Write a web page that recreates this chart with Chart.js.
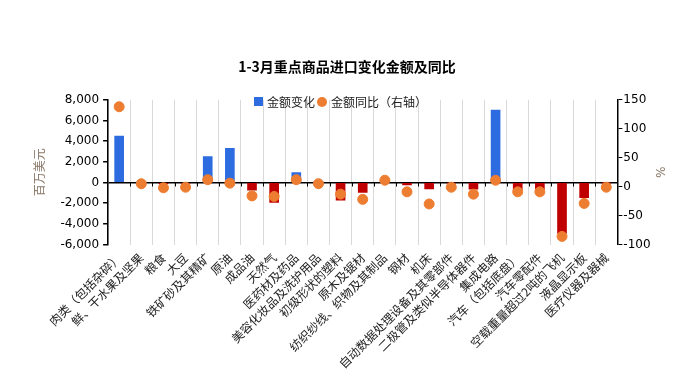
<!DOCTYPE html>
<html>
<head>
<meta charset="utf-8">
<script src="https://cdn.jsdelivr.net/npm/chart.js@4.4.0/dist/chart.umd.min.js"></script>
<style>
  html, body { margin: 0; padding: 0; background: #fff; }
  #wrap { position: relative; width: 681px; height: 385px; }
  #legend {
    position: absolute; left: 0; width: 681px; top: 91px; text-align: center;
    font: 12px "Noto Sans CJK SC", sans-serif; color: #222; pointer-events: none;
  }
  #legend span { display: inline-block; vertical-align: middle; }
  .sq { width: 9px; height: 9px; background: #2d6be0; margin-right: 4px; }
  .dot { width: 10px; height: 10px; border-radius: 50%; background: #ed7d31; margin: 0 4px 0 2px; }
</style>
</head>
<body>
<div id="wrap">
  <canvas id="chart" width="681" height="385"></canvas>
  <div id="legend"><span class="sq"></span><span>金额变化</span><span class="dot"></span><span>金额同比（右轴）</span></div>
</div>
<script>
const categories = ['肉类（包括杂碎）', '鲜、干水果及坚果', '粮食', '大豆', '铁矿砂及其精矿', '原油', '成品油', '天然气',
  '医药材及药品', '美容化妆品及洗护用品', '初级形状的塑料', '原木及锯材', '纺织纱线、织物及其制品', '钢材', '机床',
  '自动数据处理设备及其零部件', '二极管及类似半导体器件', '集成电路', '汽车（包括底盘）', '汽车零配件',
  '空载重量超过2吨的飞机', '液晶显示板', '医疗仪器及器械']

// 金额变化（百万美元）
const changeValues = [4500, 60, -150, -80, 2500, 3300, -740, -1930, 970, 100, -1710, -970, 200, -230, -610, -60, -650,
  7000, -800, -680, -4930, -1480, -40]

// 金额同比（%，右轴）
const yoyValues = [138, 5, -2, -1, 12, 6, -16, -17, 12, 5, -13, -22, 11, -9, -30, -1, -13, 11, -9, -9, -86, -29, -1]

const leftTicks = [-6000, 8000, 2000]
const rightTicks = [-100, 150, 50]

const zeroTicks = {
  id: 'zeroTicks',
  afterDatasetsDraw(chart) {
    const {ctx, scales: {x, y}} = chart
    const y0 = y.getPixelForValue(0)
    ctx.save()
    ctx.strokeStyle = '#000'
    ctx.lineWidth = 1
    for (let i = 1; i < categories.length; i++) {
      const px = Math.round((x.getPixelForTick(i - 1) + x.getPixelForTick(i)) / 2) + 0.5
      ctx.beginPath()
      ctx.moveTo(px, y0)
      ctx.lineTo(px, y0 + 4)
      ctx.stroke()
    }
    ctx.restore()
  }
}

const ctx = document.getElementById('chart').getContext('2d')
new Chart(ctx, {
  data: {
    labels: categories,
    datasets: [
      {
        type: 'line',
        label: '金额同比（右轴）',
        data: yoyValues,
        yAxisID: 'y1',
        showLine: false,
        pointRadius: 5,
        pointHoverRadius: 5,
        pointBackgroundColor: '#ed7d31',
        pointBorderColor: '#ed7d31',
        order: 0
      },
      {
        type: 'bar',
        label: '金额变化',
        data: changeValues,
        yAxisID: 'y',
        barThickness: 9,
        backgroundColor: changeValues.map(v => v >= 0 ? '#2d6be0' : '#c00000'),
        order: 1
      }
    ]
  },
  options: {
    responsive: false,
    animation: false,
    layout: { padding: { top: 58, left: 28, right: 15, bottom: 8 } },
    plugins: {
      legend: { display: false },
      tooltip: { enabled: false },
      title: {
        display: true,
        text: '1-3月重点商品进口变化金额及同比',
        color: '#000',
        font: { family: '"Noto Sans CJK SC"', size: 14, weight: 'bold' },
        padding: { top: 0, bottom: 25 }
      }
    },
    scales: {
      x: {
        grid: { color: '#d9d9d9', offset: true, tickLength: 0 },
        border: { display: false },
        ticks: {
          autoSkip: false, minRotation: 45, maxRotation: 45, color: '#222', padding: 6,
          font: { family: '"Noto Sans CJK SC"', size: 12 }
        }
      },
      y: {
        position: 'left',
        min: leftTicks[0], max: leftTicks[1],
        ticks: { stepSize: leftTicks[2], color: '#000', padding: 4, font: { family: 'DejaVu Sans', size: 12 } },
        grid: {
          color: c => c.tick && c.tick.value === 0 ? '#000' : 'rgba(0,0,0,0)',
          tickColor: '#000', tickLength: 5, lineWidth: 1.5
        },
        border: { display: true, color: '#000', width: 1.5 },
        title: {
          display: true, text: '百万美元', color: '#8a7868',
          font: { family: '"Noto Sans CJK SC"', size: 12 }, padding: { bottom: 10 }
        }
      },
      y1: {
        position: 'right',
        min: rightTicks[0], max: rightTicks[1],
        ticks: { stepSize: rightTicks[2], color: '#000', padding: 1, font: { family: 'DejaVu Sans', size: 12 } },
        grid: { drawOnChartArea: false, tickColor: '#000', tickLength: 5 },
        border: { display: true, color: '#000', width: 1.5 },
        title: {
          display: true, text: '%', color: '#8a7868',
          font: { family: 'DejaVu Sans', size: 12 }, padding: { top: 0, bottom: 0 }
        }
      }
    }
  },
  plugins: [zeroTicks]
})
</script>
</body>
</html>
